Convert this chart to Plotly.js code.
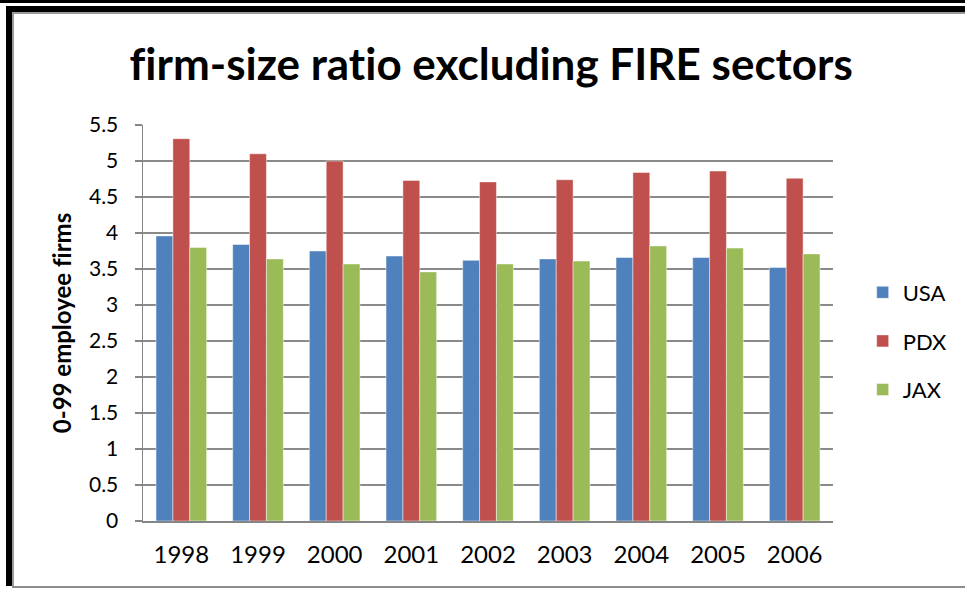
<!DOCTYPE html>
<html>
<head>
<meta charset="utf-8">
<script src="https://cdn.plot.ly/plotly-3.0.1.min.js"></script>
<style>
  html, body { margin: 0; padding: 0; background: #ffffff; }
  body { width: 965px; height: 589px; position: relative; overflow: hidden; }
  #chart text { font-variant-ligatures: none; font-feature-settings: "liga" 0, "dlig" 0; }
  #topRule { position: absolute; left: 0; top: 0; width: 965px; height: 3px; background: #000; }
  #frame { position: absolute; left: 6px; top: 6px; width: 980px; height: 580px;
           border-top: 6px solid #000; border-left: 6px solid #000; box-sizing: border-box; }
  #shade { position: absolute; left: 12px; top: 12px; width: 980px; height: 575px;
           border-top: 2px solid #9a9a9a; border-left: 2px solid #9a9a9a; box-sizing: border-box; }
  #bottomRule { position: absolute; left: 12px; top: 586px; width: 960px; height: 2px; background: #8c8c8c; }
  #chart { position: absolute; left: 0; top: 0; width: 965px; height: 589px; }
</style>
</head>
<body>
<div id="topRule"></div>
<div id="frame"></div>
<div id="shade"></div>
<div id="bottomRule"></div>
<div id="chart"></div>
<script>
// Firm-size ratio (0-99 employee firms), excluding FIRE sectors
const years = ['1998', '1999', '2000', '2001', '2002', '2003', '2004', '2005', '2006'];
const usa = [3.96, 3.84, 3.75, 3.68, 3.62, 3.64, 3.66, 3.66, 3.52];
const pdx = [5.31, 5.10, 5.00, 4.73, 4.71, 4.74, 4.84, 4.86, 4.76];
const jax = [3.80, 3.64, 3.57, 3.46, 3.57, 3.61, 3.82, 3.79, 3.71];
const yTicks = [0, 0.5, 1, 1.5, 2, 2.5, 3, 3.5, 4, 4.5, 5, 5.5];

const font = 'Lato, "Open Sans", "DejaVu Sans", sans-serif';

function series(name, values, color) {
  return {
    type: 'bar',
    name: name,
    legendgroup: name,
    x: years,
    y: values,
    marker: { color: color, line: { color: 'rgba(255,255,255,0.45)', width: 1 } },
    hoverinfo: 'x+y+name'
  };
}

const data = [
  series('USA', usa, '#4F81BD'),
  series('PDX', pdx, '#C0504D'),
  series('JAX', jax, '#9BBB59')
];

const layout = {
  width: 965,
  height: 589,
  paper_bgcolor: 'rgba(0,0,0,0)',
  plot_bgcolor: 'rgba(0,0,0,0)',
  margin: { l: 143, r: 127, t: 125, b: 68, pad: 0 },
  barmode: 'group',
  bargap: 0.34,
  bargroupgap: 0,
  font: { family: font, color: '#000' },
  title: {
    text: '<b>firm-size ratio excluding FIRE sectors</b>',
    font: { family: font, size: 44, color: '#000' },
    x: 0.509, xanchor: 'center',
    y: 0.89, yanchor: 'middle'
  },
  xaxis: {
    type: 'category',
    tickfont: { family: font, size: 24, color: '#000' },
    ticks: '',
    showline: true,
    linecolor: '#868686',
    linewidth: 1.5,
    showgrid: false,
    ticklabelstandoff: 12
  },
  yaxis: {
    range: [0, 5.5],
    tickvals: yTicks,
    ticktext: yTicks.map(String),
    tickfont: { family: font, size: 21, color: '#000' },
    ticks: 'outside',
    ticklen: 7,
    tickcolor: '#868686',
    tickwidth: 1.5,
    ticklabelstandoff: 12,
    showline: true,
    linecolor: '#868686',
    linewidth: 1.5,
    gridcolor: '#8a8a8a',
    gridwidth: 1.5,
    zeroline: false,
    title: {
      text: '<b>0-99 employee firms</b>',
      font: { family: font, size: 24, color: '#000' },
      standoff: 10
    }
  },
  legend: {
    x: 1.043, xanchor: 'left', xref: 'paper',
    y: 0.4545, yanchor: 'middle',
    font: { family: font, size: 22, color: '#000' },
    itemwidth: 30,
    traceorder: 'grouped',
    tracegroupgap: 17,
    bgcolor: 'rgba(0,0,0,0)'
  },
  showlegend: true
};

Plotly.newPlot('chart', data, layout, { displayModeBar: false, staticPlot: true });
</script>
</body>
</html>
